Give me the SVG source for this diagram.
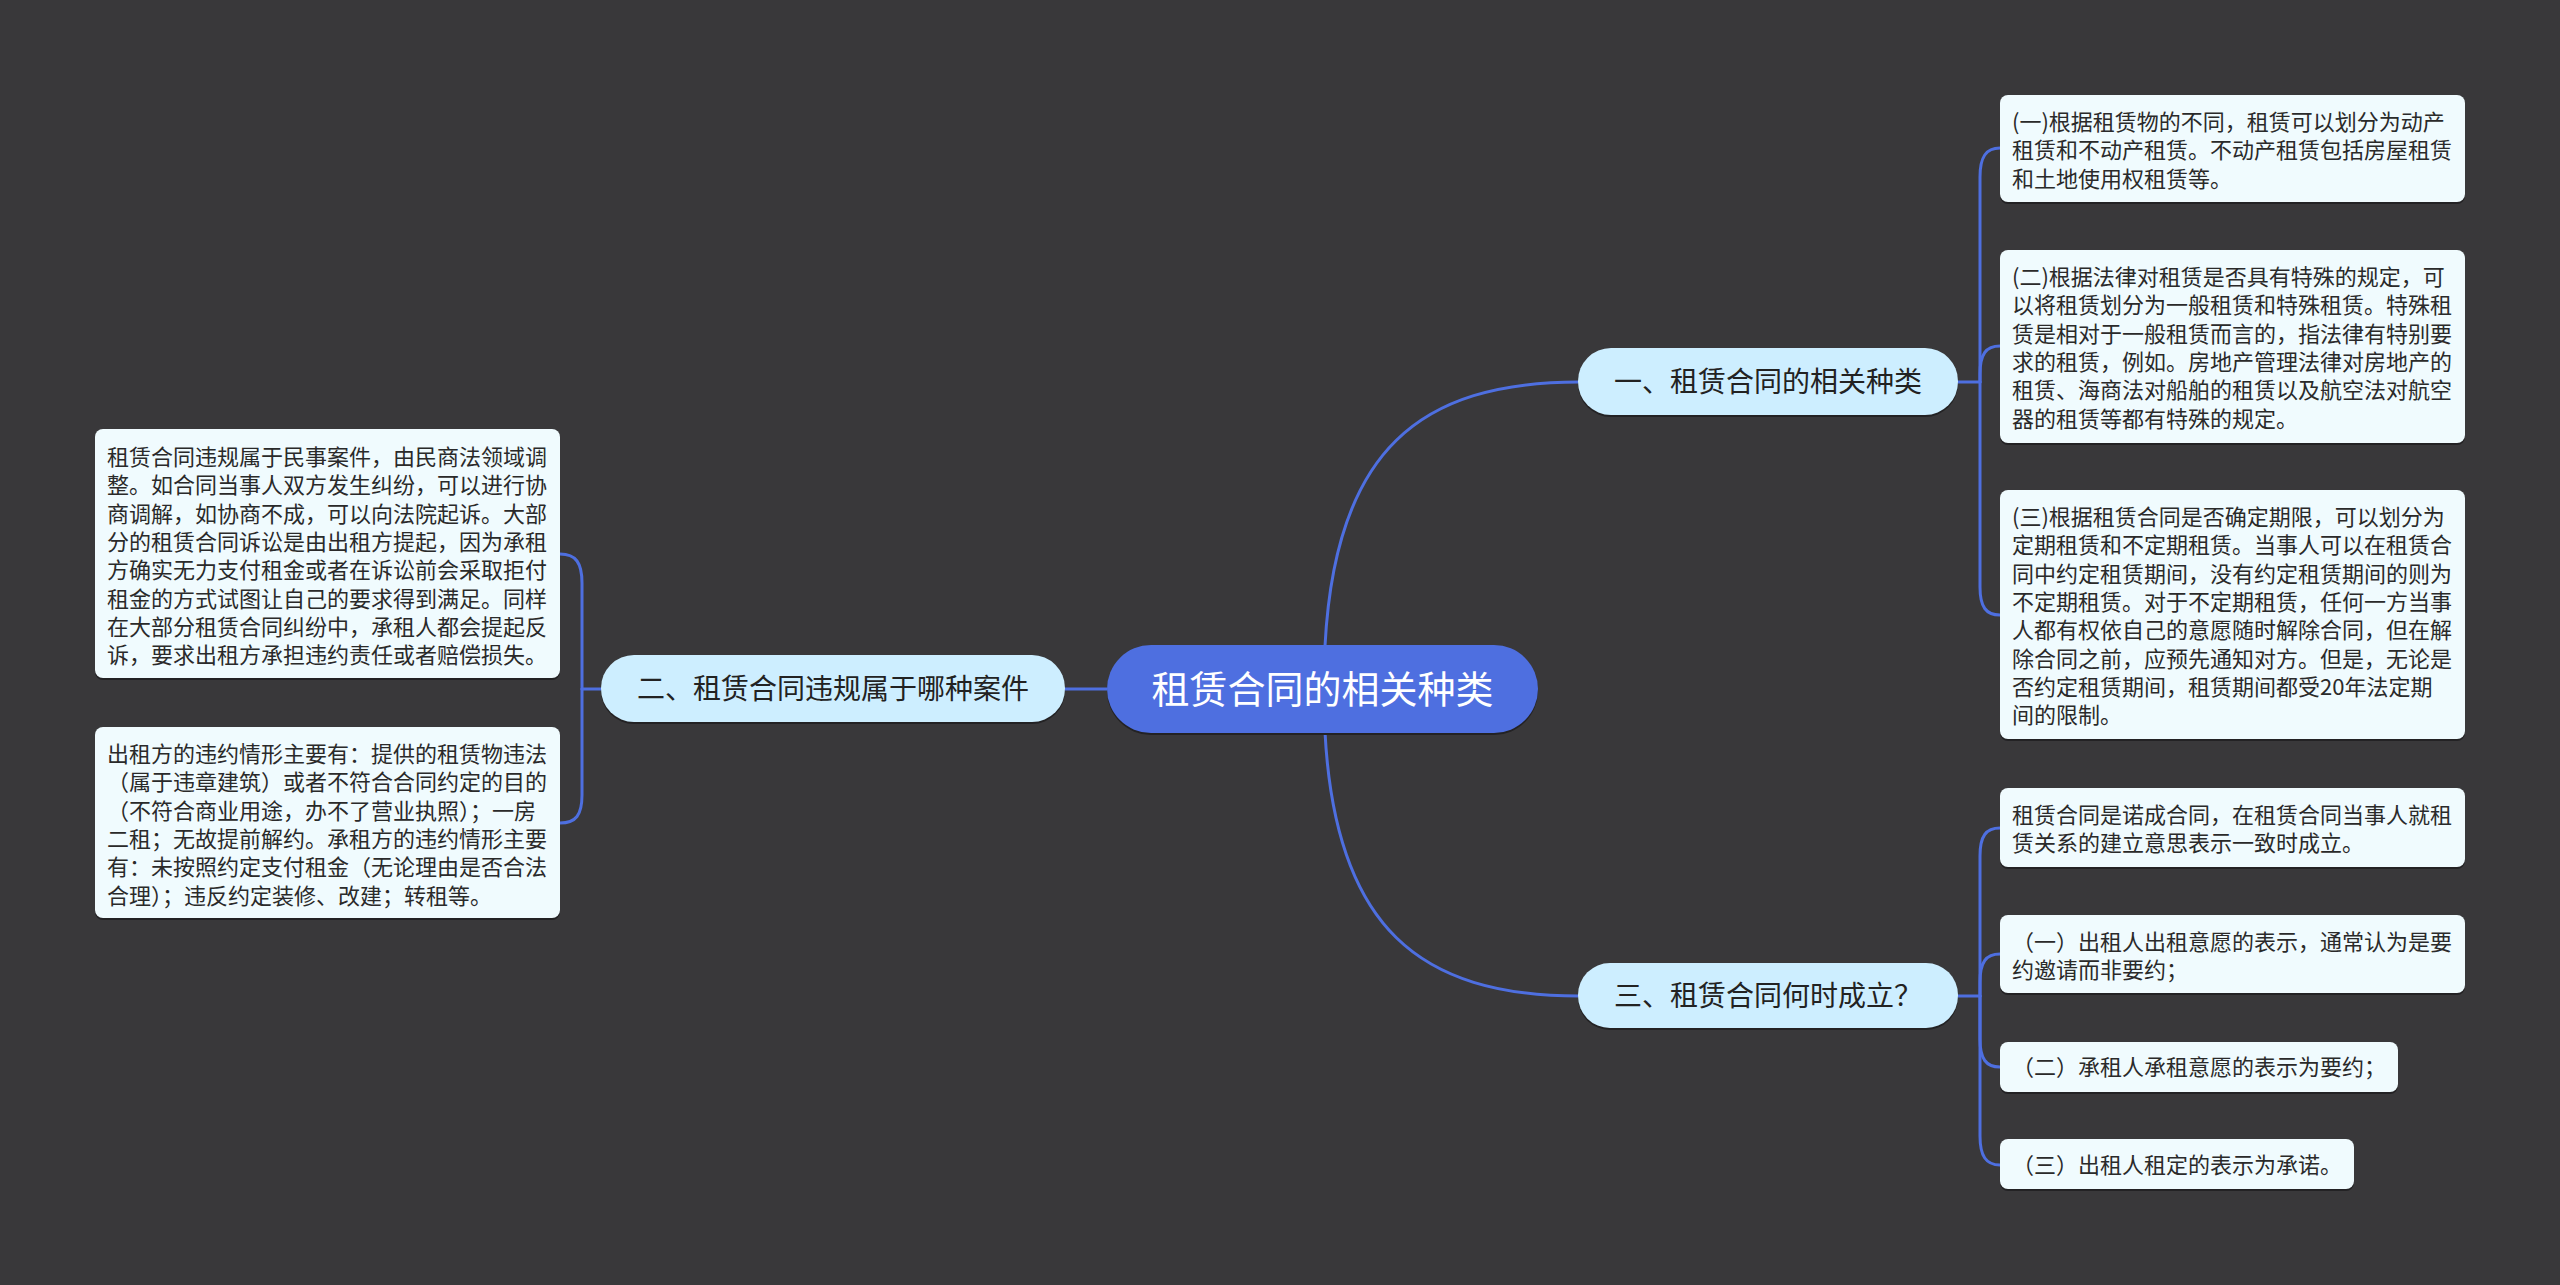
<svg xmlns="http://www.w3.org/2000/svg" width="2560" height="1285" viewBox="0 0 2560 1285">
<style>
.bg{fill:#39383a}
.edge{fill:none;stroke:#4e6fe0;stroke-width:3;stroke-linecap:round}
.root{fill:#4e6fe0}
.rootT{font-family:"Noto Sans CJK SC","Noto Sans",sans-serif;font-size:38px;fill:#ffffff;text-anchor:middle}
.br{fill:#cdeeff}
.brT{font-family:"Noto Sans CJK SC","Noto Sans",sans-serif;font-size:28px;fill:#222222;text-anchor:middle}
.leaf{fill:#f0fbfe}
.shadow{fill:#232224}
.leafT{font-family:"Noto Sans CJK SC","Noto Sans",sans-serif;font-size:22px;fill:#2a2a2a}
</style>
<rect class="bg" x="0" y="0" width="2560" height="1285"/>
<g id="connectors">
<path class="edge" d="M1325 646 C1335 450 1420 382 1579 382"/>
<path class="edge" d="M1325 732 C1335 928 1420 996 1579 996"/>
<path class="edge" d="M1107 689 L1065 689"/>
<path class="edge" d="M601 689 L582 689"/>
<path class="edge" d="M582 689 L582 583 C582 563 576 554 560 554"/>
<path class="edge" d="M582 689 L582 795 C582 815 576 823 560 823"/>
<path class="edge" d="M1958 382 L1980 382"/>
<path class="edge" d="M1980 382 L1980 177 C1980 157 1986 148 2000 148"/>
<path class="edge" d="M1980 382 L1980 374 C1980 354 1986 346 2000 346"/>
<path class="edge" d="M1980 382 L1980 587 C1980 607 1986 615 2000 615"/>
<path class="edge" d="M1958 996 L1980 996"/>
<path class="edge" d="M1980 996 L1980 856 C1980 836 1986 828 2000 828"/>
<path class="edge" d="M1980 996 L1980 982 C1980 962 1986 954 2000 954"/>
<path class="edge" d="M1980 996 L1980 1039 C1980 1059 1986 1067 2000 1067"/>
<path class="edge" d="M1980 996 L1980 1136 C1980 1156 1986 1165 2000 1165"/>
</g>
<g id="root">
<rect class="shadow" x="1107" y="647" width="431" height="88" rx="44"/>
<rect class="root" x="1107" y="645" width="431" height="88" rx="44"/>
<text class="rootT" x="1322.5" y="703">租赁合同的相关种类</text>
</g>
<g id="branch1">
<rect class="shadow" x="1578" y="350" width="380" height="67" rx="33"/>
<rect class="br" x="1578" y="348" width="380" height="67" rx="33"/>
<text class="brT" x="1768" y="392">一、租赁合同的相关种类</text>
</g>
<g id="branch2">
<rect class="shadow" x="601" y="657" width="464" height="67" rx="33"/>
<rect class="br" x="601" y="655" width="464" height="67" rx="33"/>
<text class="brT" x="833" y="699">二、租赁合同违规属于哪种案件</text>
</g>
<g id="branch3">
<rect class="shadow" x="1578" y="965" width="380" height="65" rx="32"/>
<rect class="br" x="1578" y="963" width="380" height="65" rx="32"/>
<text class="brT" x="1768" y="1006">三、租赁合同何时成立？</text>
</g>
<g id="leaf1">
<rect class="shadow" x="2000" y="97" width="465" height="107" rx="8"/>
<rect class="leaf" x="2000" y="95" width="465" height="107" rx="8"/>
<text class="leafT"><tspan x="2012" y="130">(一)根据租赁物的不同，租赁可以划分为动产</tspan><tspan x="2012" y="158.3">租赁和不动产租赁。不动产租赁包括房屋租赁</tspan><tspan x="2012" y="186.7">和土地使用权租赁等。</tspan></text>
</g>
<g id="leaf2">
<rect class="shadow" x="2000" y="252" width="465" height="193" rx="8"/>
<rect class="leaf" x="2000" y="250" width="465" height="193" rx="8"/>
<text class="leafT"><tspan x="2012" y="285">(二)根据法律对租赁是否具有特殊的规定，可</tspan><tspan x="2012" y="313.3">以将租赁划分为一般租赁和特殊租赁。特殊租</tspan><tspan x="2012" y="341.7">赁是相对于一般租赁而言的，指法律有特别要</tspan><tspan x="2012" y="370">求的租赁，例如。房地产管理法律对房地产的</tspan><tspan x="2012" y="398.3">租赁、海商法对船舶的租赁以及航空法对航空</tspan><tspan x="2012" y="426.7">器的租赁等都有特殊的规定。</tspan></text>
</g>
<g id="leaf3">
<rect class="shadow" x="2000" y="492" width="465" height="249" rx="8"/>
<rect class="leaf" x="2000" y="490" width="465" height="249" rx="8"/>
<text class="leafT"><tspan x="2012" y="525">(三)根据租赁合同是否确定期限，可以划分为</tspan><tspan x="2012" y="553.3">定期租赁和不定期租赁。当事人可以在租赁合</tspan><tspan x="2012" y="581.7">同中约定租赁期间，没有约定租赁期间的则为</tspan><tspan x="2012" y="610">不定期租赁。对于不定期租赁，任何一方当事</tspan><tspan x="2012" y="638.3">人都有权依自己的意愿随时解除合同，但在解</tspan><tspan x="2012" y="666.7">除合同之前，应预先通知对方。但是，无论是</tspan><tspan x="2012" y="695">否约定租赁期间，租赁期间都受20年法定期</tspan><tspan x="2012" y="723.3">间的限制。</tspan></text>
</g>
<g id="leaf4">
<rect class="shadow" x="2000" y="790" width="465" height="79" rx="8"/>
<rect class="leaf" x="2000" y="788" width="465" height="79" rx="8"/>
<text class="leafT"><tspan x="2012" y="823">租赁合同是诺成合同，在租赁合同当事人就租</tspan><tspan x="2012" y="851.3">赁关系的建立意思表示一致时成立。</tspan></text>
</g>
<g id="leaf5">
<rect class="shadow" x="2000" y="917" width="465" height="78" rx="8"/>
<rect class="leaf" x="2000" y="915" width="465" height="78" rx="8"/>
<text class="leafT"><tspan x="2012" y="950">（一）出租人出租意愿的表示，通常认为是要</tspan><tspan x="2012" y="978.3">约邀请而非要约；</tspan></text>
</g>
<g id="leaf6">
<rect class="shadow" x="2000" y="1044" width="398" height="50" rx="8"/>
<rect class="leaf" x="2000" y="1042" width="398" height="50" rx="8"/>
<text class="leafT"><tspan x="2012" y="1075">（二）承租人承租意愿的表示为要约；</tspan></text>
</g>
<g id="leaf7">
<rect class="shadow" x="2000" y="1141" width="354" height="50" rx="8"/>
<rect class="leaf" x="2000" y="1139" width="354" height="50" rx="8"/>
<text class="leafT"><tspan x="2012" y="1173">（三）出租人租定的表示为承诺。</tspan></text>
</g>
<g id="leafL1">
<rect class="shadow" x="95" y="431" width="465" height="249" rx="8"/>
<rect class="leaf" x="95" y="429" width="465" height="249" rx="8"/>
<text class="leafT"><tspan x="107" y="465">租赁合同违规属于民事案件，由民商法领域调</tspan><tspan x="107" y="493.3">整。如合同当事人双方发生纠纷，可以进行协</tspan><tspan x="107" y="521.7">商调解，如协商不成，可以向法院起诉。大部</tspan><tspan x="107" y="550">分的租赁合同诉讼是由出租方提起，因为承租</tspan><tspan x="107" y="578.3">方确实无力支付租金或者在诉讼前会采取拒付</tspan><tspan x="107" y="606.7">租金的方式试图让自己的要求得到满足。同样</tspan><tspan x="107" y="635">在大部分租赁合同纠纷中，承租人都会提起反</tspan><tspan x="107" y="663.3">诉，要求出租方承担违约责任或者赔偿损失。</tspan></text>
</g>
<g id="leafL2">
<rect class="shadow" x="95" y="729" width="465" height="191" rx="8"/>
<rect class="leaf" x="95" y="727" width="465" height="191" rx="8"/>
<text class="leafT"><tspan x="107" y="762">出租方的违约情形主要有：提供的租赁物违法</tspan><tspan x="107" y="790.3">（属于违章建筑）或者不符合合同约定的目的</tspan><tspan x="107" y="818.7">（不符合商业用途，办不了营业执照）；一房</tspan><tspan x="107" y="847">二租；无故提前解约。承租方的违约情形主要</tspan><tspan x="107" y="875.3">有：未按照约定支付租金（无论理由是否合法</tspan><tspan x="107" y="903.7">合理）；违反约定装修、改建；转租等。</tspan></text>
</g>
</svg>
